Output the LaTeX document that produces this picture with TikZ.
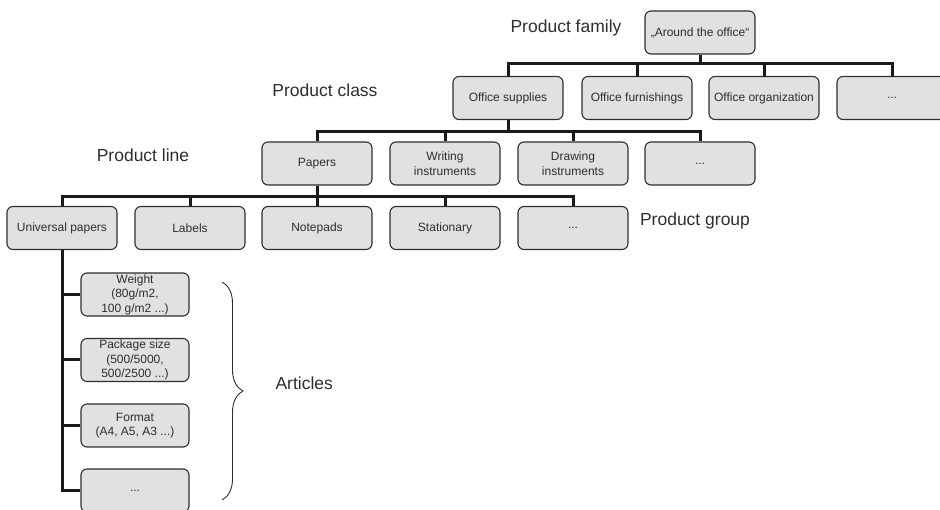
\documentclass[tikz,border=0pt]{standalone}
\usepackage{fontspec}
\setmainfont{Liberation Sans}
\usepackage{tikz}
\usetikzlibrary{decorations.pathreplacing}

\definecolor{boxfill}{HTML}{E1E1E1}
\definecolor{ink}{HTML}{2E2E2E}

\begin{document}
\begin{tikzpicture}[x=1pt,y=-1pt,
    item/.style={draw=ink,line width=1.1pt,fill=boxfill,rounded corners=6pt,
        minimum width=110pt,minimum height=43pt,align=center,
        font=\fontsize{12}{14.5}\selectfont,text=ink,inner sep=1pt},
    article/.style={item,minimum width=108pt},
    level/.style={font=\fontsize{17.5}{20}\selectfont,text=ink},
    bus/.style={draw=black!90,line width=3pt}]
    \useasboundingbox (0,0) rectangle (940,510);

    % product family
    \node[item] (family) at (700,32.5) {„Around the office“};
    \node[level] (lfamily) at (566,28) {Product family};

    % product classes
    \node[item] (supplies) at (508,98) {Office supplies};
    \node[item] (furnish) at (637,98) {Office furnishings};
    \node[item] (organize) at (764,98) {Office organization};
    \node[item] (moreclass) at (892,98) {...};
    \node[level] (lclass) at (325,90) {Product class};

    % product lines
    \node[item] (papers) at (317,163.5) {Papers};
    \node[item] (writing) at (445,163.5) {Writing\\instruments};
    \node[item] (drawing) at (573,163.5) {Drawing\\instruments};
    \node[item] (moreline) at (700,163.5) {...};
    \node[level] (lline) at (143,155) {Product line};

    % product groups
    \node[item] (universal) at (62,228) {Universal papers};
    \node[item] (labels) at (190,228) {Labels};
    \node[item] (notepads) at (317,228) {Notepads};
    \node[item] (stationary) at (445,228) {Stationary};
    \node[item] (moregroup) at (573,228) {...};
    \node[level] (lgroup) at (695,221) {Product group};

    % articles
    \node[article] (weight) at (135,294.5) {Weight\\(80g/m2,\\100 g/m2 ...)};
    \node[article] (package) at (135,360) {Package size\\(500/5000,\\500/2500 ...)};
    \node[article] (format) at (135,425.5) {Format\\(A4, A5, A3 ...)};
    \node[article] (morearticle) at (135,490.5) {...};
    \node[level,anchor=west] (larticles) at (272,383) {Articles};

    \foreach \child in {supplies,furnish,organize,moreclass}
        \draw[bus] (family.south) -- ++(0,9) -| (\child.north);
    \foreach \child in {papers,writing,drawing,moreline}
        \draw[bus] (supplies.south) -- ++(0,11) -| (\child.north);
    \foreach \child in {universal,labels,notepads,stationary,moregroup}
        \draw[bus] (papers.south) -- ++(0,11) -| (\child.north);
    \foreach \child in {weight,package,format,morearticle}
        \draw[bus] (universal.south) |- (\child.west);

    \draw[ink,line width=0.9pt,decorate,decoration={brace,amplitude=21pt}]
        (222,282) -- (222,500);
\end{tikzpicture}
\end{document}
